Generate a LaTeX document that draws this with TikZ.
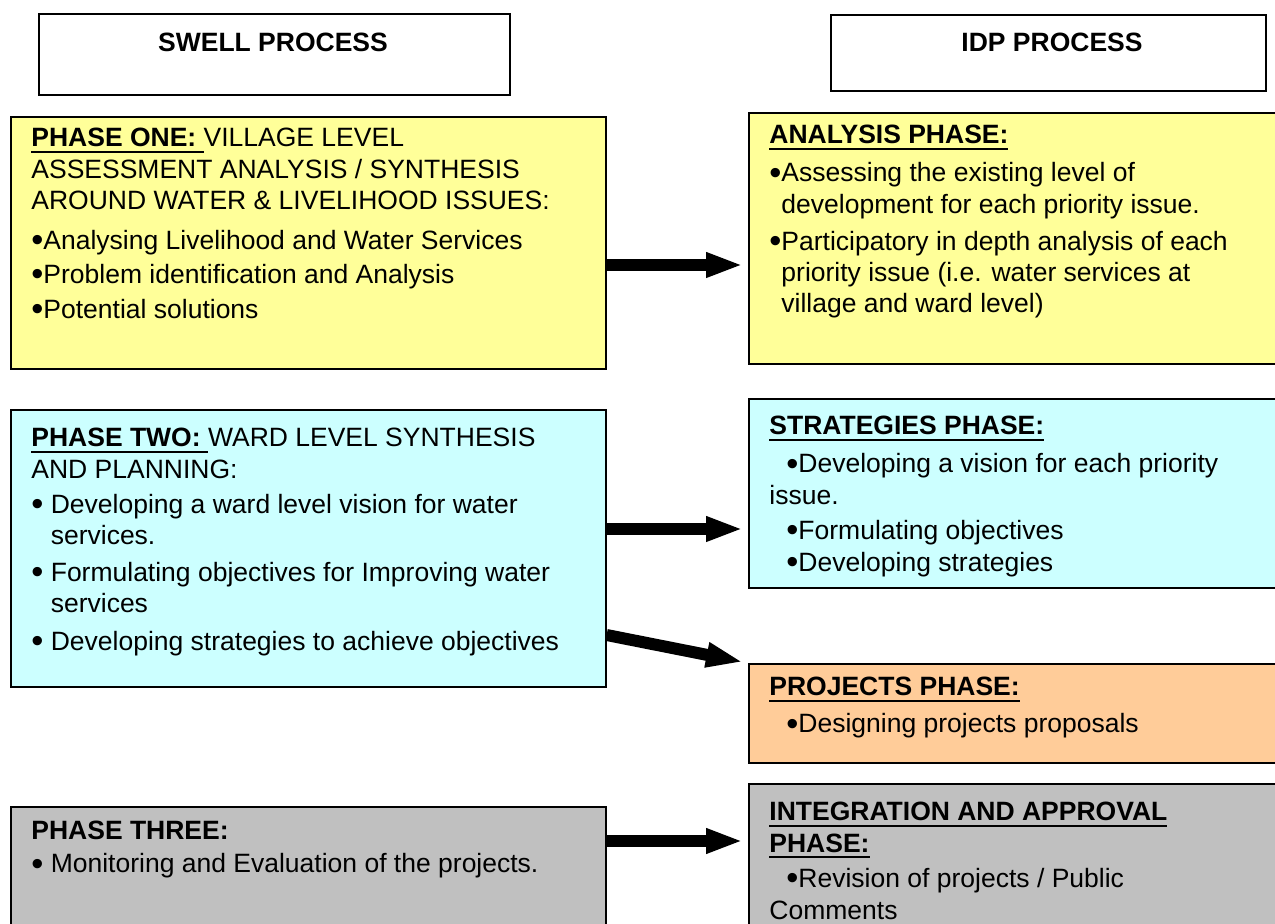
\documentclass[tikz,border=0pt]{standalone}
\usepackage{fontspec}
\setmainfont{Liberation Sans}
\usetikzlibrary{arrows.meta}
\definecolor{yelbox}{HTML}{FFFF99}
\definecolor{cyabox}{HTML}{CCFFFF}
\definecolor{orabox}{HTML}{FFCC99}
\definecolor{grybox}{HTML}{C0C0C0}
% bold head with a heavy rule under it
\newsavebox{\phbox}
\newcommand{\phhead}[1]{\sbox{\phbox}{\textbf{#1}}\rlap{\rule[-3.1pt]{\wd\phbox}{1pt}}\usebox{\phbox}}
\newcommand{\bul}{\raisebox{-1.1pt}{\scalebox{1.3}{•}}}
\newcommand{\hang}{\hspace*{8.5pt}}
\tikzset{
  box/.style={draw, line width=.8pt, inner sep=0pt, anchor=north west},
  txt/.style={align=left, inner sep=0pt, anchor=north west},
  head/.style={font=\fontsize{13.25}{15.6}\selectfont\bfseries},
  flow/.style={line width=6pt, -{Triangle[length=18.5pt,width=11.5pt]}, shorten >=2.5pt}
}
\begin{document}
\begin{tikzpicture}[x=.5pt,y=-.5pt,font=\fontsize{13.25}{15.6}\selectfont]
  \useasboundingbox (0,0) rectangle (1275,924);
  \clip (0,0) rectangle (1275,924);
  % column heads
  \node[box, minimum width=235.5pt, minimum height=40.5pt] (swell) at (38,13) {};
  \node[box, minimum width=217.5pt, minimum height=38pt] (idp) at (830,14) {};
  \node[head] (swelltxt) at (273,42) {SWELL PROCESS};
  \node[head] (idptxt) at (1052,42) {IDP PROCESS};
  % left column
  \node[box, fill=yelbox, minimum width=297.5pt, minimum height=126pt] (one) at (10,116) {};
  \node[box, fill=cyabox, minimum width=297.5pt, minimum height=138.5pt] (two) at (10,409) {};
  \node[box, fill=grybox, minimum width=297.5pt, minimum height=80pt] (three) at (10,806) {};
  % right column, cut off at the page edge
  \node[box, fill=yelbox, minimum width=280pt, minimum height=125.5pt] (ana) at (748,112) {};
  \node[box, fill=cyabox, minimum width=280pt, minimum height=94.5pt] (strat) at (748,398) {};
  \node[box, fill=orabox, minimum width=280pt, minimum height=49.5pt] (proj) at (748,663) {};
  \node[box, fill=grybox, minimum width=280pt, minimum height=90pt] (integ) at (748,783) {};

  \node[txt] (onetxt) at ([xshift=10.5pt,yshift=-5.25pt]one.north west)
    {\rule{0pt}{10pt}\phhead{PHASE ONE: }VILLAGE LEVEL\\
     ASSESSMENT ANALYSIS / SYNTHESIS\\
     AROUND WATER \& LIVELIHOOD ISSUES:\\[4.4pt]
     \bul Analysing Livelihood and Water Services\\[1.5pt]
     \bul Problem identification and Analysis\\[1.9pt]
     \bul Potential solutions};
  \node[txt] (twotxt) at ([xshift=10.5pt,yshift=-8.75pt]two.north west)
    {\rule{0pt}{10pt}\phhead{PHASE TWO: }WARD LEVEL SYNTHESIS\\
     AND PLANNING:\\[1.9pt]
     \bul\ Developing a ward level vision for water\\
     \phantom{\bul\ }services.\\[2.9pt]
     \bul\ Formulating objectives for Improving water\\
     \phantom{\bul\ }services\\[3.4pt]
     \bul\ Developing strategies to achieve objectives};
  \node[txt] (threetxt) at ([xshift=10.5pt,yshift=-6.75pt]three.north west)
    {\rule{0pt}{10pt}\textbf{PHASE THREE:}\\[.9pt]
     \bul\ Monitoring and Evaluation of the projects.};

  \node[txt] (anatxt) at ([xshift=10.5pt,yshift=-5.75pt]ana.north west)
    {\rule{0pt}{10pt}\phhead{ANALYSIS PHASE:}\\[3.4pt]
     \bul Assessing the existing level of\\
     \phantom{\bul}development for each priority issue.\\[2.9pt]
     \bul Participatory in depth analysis of each\\
     \phantom{\bul}priority issue (i.e. water services at\\
     \phantom{\bul}village and ward level)};
  \node[txt] (strattxt) at ([xshift=10.5pt,yshift=-8.25pt]strat.north west)
    {\rule{0pt}{10pt}\phhead{STRATEGIES PHASE:}\\[3.4pt]
     \hang\bul Developing a vision for each priority\\
     issue.\\[1.9pt]
     \hang\bul Formulating objectives\\[.4pt]
     \hang\bul Developing strategies};
  \node[txt] (projtxt) at ([xshift=10.5pt,yshift=-6.25pt]proj.north west)
    {\rule{0pt}{10pt}\phhead{PROJECTS PHASE:}\\[2.9pt]
     \hang\bul Designing projects proposals};
  \node[txt] (integtxt) at ([xshift=10.5pt,yshift=-8.75pt]integ.north west)
    {\rule{0pt}{10pt}\phhead{INTEGRATION AND APPROVAL}\\
     \phhead{PHASE:}\\[1.9pt]
     \hang\bul Revision of projects / Public\\[.4pt]
     Comments};

  % links between the two processes
  \coordinate (a1) at ([yshift=-74.5pt]one.north east);
  \coordinate (a2) at ([yshift=-60pt]two.north east);
  \coordinate (a3) at ([yshift=-113pt]two.north east);
  \coordinate (a4) at ([yshift=-17.5pt]three.north east);
  \draw[flow] (a1) -- (a1 -| ana.west);
  \draw[flow] (a2) -- (a2 -| strat.west);
  \draw[flow] (a3) -- (proj.north west);
  \draw[flow] (a4) -- (a4 -| integ.west);
\end{tikzpicture}
\end{document}
